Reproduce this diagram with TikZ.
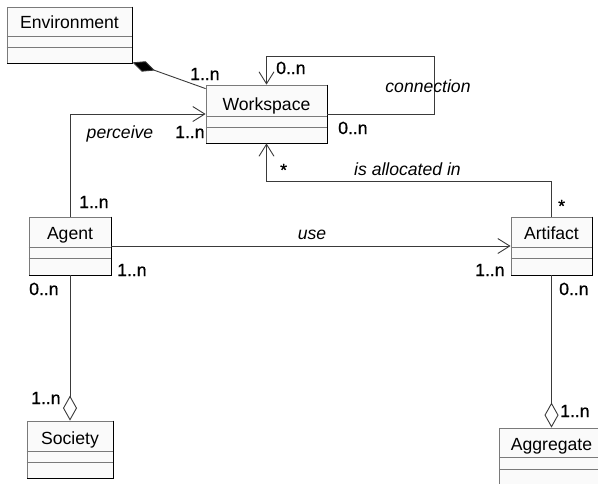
\documentclass[tikz,border=0pt]{standalone}
\usepackage{fontspec}
\setmainfont{Liberation Sans}
\newfontfamily\multfont[FakeBold=0.9]{Liberation Sans}
\usetikzlibrary{arrows.meta,calc}
\definecolor{boxfill}{HTML}{FAFAFA}
\definecolor{boxline}{HTML}{7A7A7A}
\definecolor{conline}{HTML}{3A3A3A}
\tikzset{
  clsbox/.style={draw=boxline, fill=boxfill, line width=0.8pt, rectangle, inner sep=0pt},
  shadowedge/.style={draw=black, line width=1.8pt},
  comp/.style={draw=boxline, line width=0.8pt},
  title/.style={font=\fontsize{17.6}{20}\selectfont, anchor=base, inner sep=0pt},
  mult/.style={font=\fontsize{17.6}{20}\selectfont\multfont, anchor=base west, inner sep=0pt},
  rolelbl/.style={font=\fontsize{17.6}{20}\selectfont\itshape, anchor=base, inner sep=0pt},
  conn/.style={draw=conline, line width=0.9pt},
  navarrow/.style={conn, -{Straight Barb[length=12pt,width=15pt,line width=0.9pt]}},
  composition/.style={conn, {Diamond[length=24pt,width=11pt,fill=black]}-},
  aggregation/.style={conn, -{Diamond[open,length=25pt,width=14pt,fill=white,line width=0.9pt]}},
}
\begin{document}
\begin{tikzpicture}[x=1pt,y=-1pt]
\useasboundingbox (0,0) rectangle (598,483);
% classes
\node[clsbox, minimum width=125pt, minimum height=56pt] (env) at (69.5,35) {};
\node[clsbox, minimum width=121pt, minimum height=58pt] (ws) at (266.5,114) {};
\node[clsbox, minimum width=82pt, minimum height=58pt] (agent) at (70,246) {};
\node[clsbox, minimum width=81pt, minimum height=58pt] (art) at (551.5,246) {};
\node[clsbox, minimum width=86pt, minimum height=57pt] (soc) at (70,449.5) {};
\node[clsbox, minimum width=104pt, minimum height=58pt] (agg) at (551.5,457) {};
% compartments
\foreach \n/\a/\b in {env/30/41, ws/32/43, agent/31/42, art/31/42, soc/31/42, agg/30/42}{
  \draw[comp] ($(\n.north west)+(0,\a)$) -- ($(\n.north east)+(0,\a)$);
  \draw[comp] ($(\n.north west)+(0,\b)$) -- ($(\n.north east)+(0,\b)$);
  \draw[shadowedge] (\n.north east) -- (\n.south east) -- (\n.south west);
}
% titles
\node[title] (envt) at ($(env.north)+(0,21.5)$) {Environment};
\node[title] (wst) at ($(ws.north)+(0,25.5)$) {Workspace};
\node[title] (agentt) at ($(agent.north)+(0,23)$) {Agent};
\node[title] (artt) at ($(art.north)+(0,23)$) {Artifact};
\node[title] (soct) at ($(soc.north)+(0,24)$) {Society};
\node[title] (aggt) at ($(agg.north)+(0,22.5)$) {Aggregate};
% connectors
\coordinate (envc) at ($(env.south east)+(0,-1)$);
\coordinate (wsc) at ($(ws.north west)+(0,4)$);
\draw[composition] (envc) -- (wsc);
\draw[navarrow] (ws.east) -- (434,114) |- (266.5,56) -- (ws.north);
\draw[navarrow] (agent.north) |- (ws.west);
\draw[navarrow] (agent.east) -- (art.west);
\draw[navarrow] (art.north) -- ++(0,-35) -| (ws.south);
\draw[aggregation] (agent.south) -- (soc.north);
\draw[aggregation] (art.south) -- (agg.north);
% labels
\node[mult] (m1) at (190,80) {1..n};
\node[mult] (m2) at (276,74) {0..n};
\node[rolelbl] (lconn) at (428,92) {connection};
\node[mult] (m3) at (338,134) {0..n};
\node[rolelbl] (lperc) at (120,138) {perceive};
\node[mult] (m4) at (175,138) {1..n};
\node[mult] (m5) at (280,176) {*};
\node[rolelbl] (lalloc) at (407.5,175) {is allocated in};
\node[mult] (m6) at (558,212) {*};
\node[mult] (m7) at (79,208) {1..n};
\node[rolelbl] (luse) at (312,239) {use};
\node[mult] (m8) at (117,276) {1..n};
\node[mult] (m9) at (475,276) {1..n};
\node[mult] (m10) at (29,295) {0..n};
\node[mult] (m11) at (559,295) {0..n};
\node[mult] (m12) at (31,404) {1..n};
\node[mult] (m13) at (560,417) {1..n};
\end{tikzpicture}
\end{document}
